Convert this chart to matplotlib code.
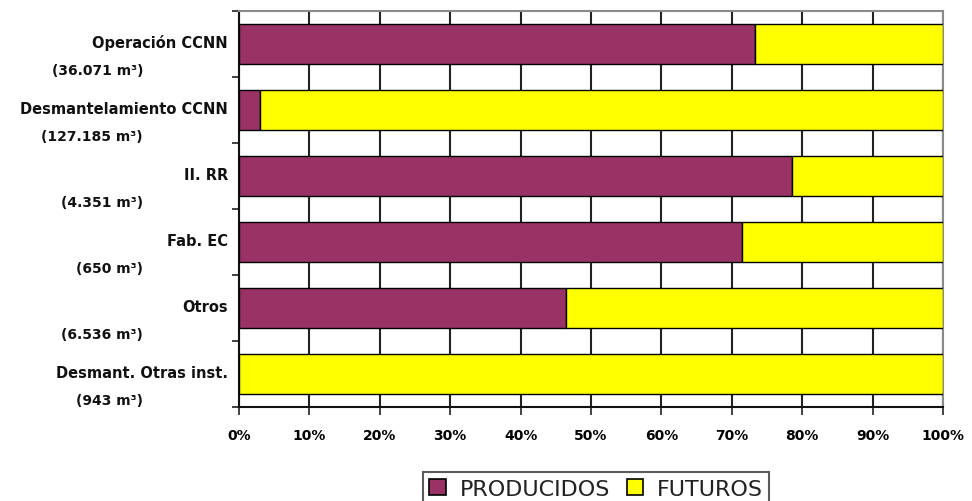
import matplotlib
matplotlib.use("Agg")
import matplotlib.pyplot as plt
from matplotlib.patches import Patch
import numpy as np

# Share of each waste stream already produced vs. still to come
categories = ["Operación CCNN", "Desmantelamiento CCNN", "II. RR",
              "Fab. EC", "Otros", "Desmant. Otras inst."]
volumes = ["(36.071 m³)", "(127.185 m³)", "(4.351 m³)",
           "(650 m³)", "(6.536 m³)", "(943 m³)"]
producidos = [73.3, 3.0, 78.6, 71.4, 46.4, 0.0]
futuros = [100 - p for p in producidos]
x_ticks = list(range(0, 101, 10))
x_tick_labels = [f"{t}%" for t in x_ticks]
series_names = ["PRODUCIDOS", "FUTUROS"]

PURPLE = "#993366"
YELLOW = "#FFFF00"

W, H = 972, 502
fig = plt.figure(figsize=(W / 100, H / 100), dpi=100)
ax = fig.add_axes([239 / W, 1 - 408 / H, 704 / W, 396 / H])

y = np.arange(len(categories))
bar_h = 0.62
ax.barh(y, producidos, height=bar_h, color=PURPLE, edgecolor="black",
        linewidth=1.0, zorder=3)
ax.barh(y, futuros, left=producidos, height=bar_h, color=YELLOW,
        edgecolor="black", linewidth=1.0, zorder=3)

ax.set_xlim(0, 100)
ax.set_ylim(len(categories) - 0.5, -0.5)

# vertical gridlines every 10 %
ax.set_xticks(x_ticks)
ax.set_xticklabels(x_tick_labels, fontsize=10, fontweight="bold")
ax.xaxis.grid(True, color="#222222", linewidth=1.5, zorder=0)
ax.set_axisbelow(True)
ax.tick_params(axis="x", direction="out", length=6, width=1.2,
               color="#222222", pad=9)

# category boundary ticks on the y axis, labels drawn separately
ax.set_yticks(np.arange(-0.5, len(categories), 1.0))
ax.set_yticklabels([])
ax.tick_params(axis="y", direction="out", length=5, width=1.2,
               color="#222222")

for side in ("left", "bottom"):
    ax.spines[side].set_color("#111111")
    ax.spines[side].set_linewidth(1.5)
for side in ("top", "right"):
    ax.spines[side].set_color("#8a8a8a")
    ax.spines[side].set_linewidth(1.5)

trans = ax.get_yaxis_transform()
for yi, name, vol in zip(y, categories, volumes):
    ax.text(-11 / 704, yi - 0.03, name, transform=trans, ha="right",
            va="center", fontsize=10.5, fontweight="bold", color="#111111")
    ax.text(-96 / 704, yi + 0.40, vol, transform=trans, ha="right",
            va="center", fontsize=10, fontweight="bold", color="#111111")

handles = [Patch(facecolor=PURPLE, edgecolor="black", linewidth=1.2),
           Patch(facecolor=YELLOW, edgecolor="black", linewidth=1.2)]
leg = fig.legend(handles, series_names, loc="upper center",
                 bbox_to_anchor=(596 / W, 1 - 473 / H), ncol=2,
                 frameon=True, fancybox=False, fontsize=16,
                 handlelength=0.75, handleheight=0.75, handletextpad=0.6,
                 columnspacing=0.75, borderpad=0.3, borderaxespad=0)
leg.get_frame().set_edgecolor("#333333")
leg.get_frame().set_linewidth(1.5)
for t in leg.get_texts():
    t.set_color("#222222")

fig.savefig("out.png", dpi=100)
